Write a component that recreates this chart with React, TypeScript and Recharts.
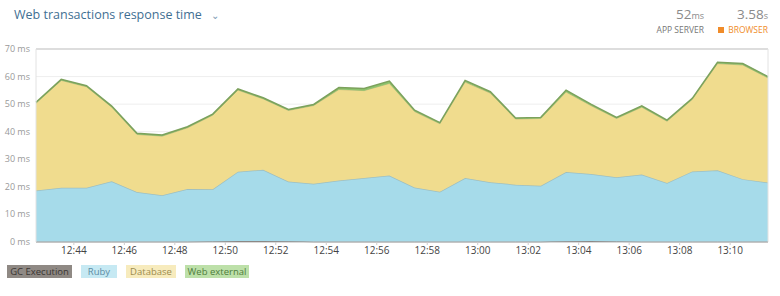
import React from 'react';
import { AreaChart, Area, XAxis, YAxis, CartesianGrid, ReferenceLine } from 'recharts';

const minutes = [42.5, 43.5, 44.5, 45.5, 46.5, 47.5, 48.5, 49.5, 50.5, 51.5, 52.5, 53.5, 54.5, 55.5, 56.5, 57.5, 58.5, 59.5, 60.5, 61.5, 62.5, 63.5, 64.5, 65.5, 66.5, 67.5, 68.5, 69.5, 70.5, 71.5];
const gcExecution = [0.1, 0.1, 0.1, 0.1, 0.1, 0.1, 0.1, 0.2, 0.4, 0.4, 0.3, 0.1, 0.1, 0.1, 0.1, 0.1, 0.1, 0.1, 0.1, 0.1, 0.1, 0.3, 0.4, 0.2, 0.1, 0.1, 0.1, 0.1, 0.1, 0.1];
const ruby = [18.6, 19.6, 19.6, 21.9, 18.0, 16.9, 19.1, 18.9, 25.1, 25.8, 21.6, 21.0, 22.2, 23.1, 24.0, 19.7, 18.1, 23.1, 21.6, 20.7, 20.3, 25.1, 24.3, 23.3, 24.4, 21.3, 25.5, 25.9, 22.7, 21.5];
const database = [31.6, 38.9, 36.6, 26.9, 20.9, 21.4, 22.2, 26.9, 29.6, 25.7, 25.8, 28.4, 33.0, 31.7, 33.4, 27.5, 24.7, 34.8, 32.3, 23.8, 24.4, 29.0, 24.7, 21.3, 24.4, 22.4, 26.1, 38.7, 41.4, 37.9];
const webExternal = [0.4, 0.4, 0.4, 0.4, 0.4, 0.4, 0.4, 0.4, 0.4, 0.4, 0.4, 0.4, 0.7, 0.8, 0.9, 0.5, 0.4, 0.6, 0.5, 0.4, 0.4, 0.7, 0.5, 0.4, 0.5, 0.4, 0.4, 0.5, 0.5, 0.5];
const xTicks = [44, 46, 48, 50, 52, 54, 56, 58, 60, 62, 64, 66, 68, 70];
const yTicks = [0, 10, 20, 30, 40, 50, 60, 70];

const data = minutes.map((t, i) => ({
  t,
  gc: gcExecution[i],
  ruby: ruby[i],
  db: database[i],
  web: webExternal[i],
}));

const fmtTime = (m: number) => {
  const h = 12 + Math.floor(m / 60);
  const mm = Math.round(m % 60);
  return `${h}:${mm < 10 ? '0' + mm : mm}`;
};

const font = '"Open Sans", "DejaVu Sans", sans-serif';

const legend = [
  { label: 'GC Execution', bg: '#8f8984', color: '#3a3633', left: 7, width: 65 },
  { label: 'Ruby', bg: '#c6e9f3', color: '#5d8ca3', left: 81, width: 36 },
  { label: 'Database', bg: '#f7ebbd', color: '#9c8c4e', left: 126, width: 50 },
  { label: 'Web external', bg: '#bde0a9', color: '#4f7d3c', left: 185, width: 64 },
];

const YTick = (props: any) => {
  const { x, y, payload } = props;
  return (
    <text x={x} y={y} dy={3} textAnchor="end" fontSize={9} fill="#999" fontFamily={font}>
      {`${payload.value} ms`}
    </text>
  );
};

export default function App() {
  return (
    <div style={{ position: 'absolute', left: 0, top: 0, width: 780, height: 296, background: '#fff', fontFamily: font }}>
      <div style={{ position: 'absolute', left: 14, top: 6, fontSize: 12.5, color: '#3f6f93', whiteSpace: 'nowrap' }}>
        Web transactions response time<span style={{ fontSize: 10, color: '#7d9bb5', marginLeft: 9 }}>&#8964;</span>
      </div>
      <div style={{ position: 'absolute', right: 76, top: 6, textAlign: 'right', color: '#8a8a8a', whiteSpace: 'nowrap' }}>
        <div style={{ fontSize: 13.5, lineHeight: '16px' }}>52<span style={{ fontSize: 9 }}>ms</span></div>
        <div style={{ fontSize: 8.5, lineHeight: '12px', color: '#777' }}>APP SERVER</div>
      </div>
      <div style={{ position: 'absolute', right: 12, top: 6, textAlign: 'right', color: '#8a8a8a', whiteSpace: 'nowrap' }}>
        <div style={{ fontSize: 13.5, lineHeight: '16px' }}>3.58<span style={{ fontSize: 9 }}>s</span></div>
        <div style={{ fontSize: 8.5, lineHeight: '12px', color: '#f08c2a' }}>
          <span style={{ display: 'inline-block', width: 6, height: 6, background: '#f08c2a', marginRight: 4 }} />BROWSER
        </div>
      </div>
      <div style={{ position: 'absolute', left: 0, top: 0 }}>
        <AreaChart width={780} height={260} data={data} margin={{ top: 49, right: 12, bottom: 0, left: 0 }}>
          <CartesianGrid vertical={false} stroke="#eeeeee" />
          <XAxis
            dataKey="t"
            type="number"
            domain={[42.5, 71.5]}
            ticks={xTicks}
            tickFormatter={fmtTime}
            tick={{ fontSize: 10, fill: '#444', fontFamily: font }}
            tickLine={{ stroke: '#ccc' }}
            tickSize={3}
            axisLine={{ stroke: '#bbb' }}
            height={18}
            interval={0}
          />
          <YAxis
            domain={[0, 70]}
            ticks={yTicks}
            tick={<YTick />}
            tickLine={false}
            tickSize={4}
            axisLine={{ stroke: '#e2e2e2' }}
            width={36}
            interval={0}
          />
          <Area type="linear" dataKey="gc" stackId="1" fill="#6b635d" stroke="#4b4541" strokeWidth={1} fillOpacity={1} isAnimationActive={false} />
          <Area type="linear" dataKey="ruby" stackId="1" fill="#a6dbea" stroke="#9dbfc2" strokeWidth={1.5} fillOpacity={1} isAnimationActive={false} />
          <Area type="linear" dataKey="db" stackId="1" fill="#f0dc8e" stroke="#c9bd7e" strokeWidth={1} fillOpacity={1} isAnimationActive={false} />
          <Area type="linear" dataKey="web" stackId="1" fill="#8cc46c" stroke="#7ca15c" strokeWidth={1.5} fillOpacity={1} isAnimationActive={false} />
          <ReferenceLine y={70} stroke="#dddddd" strokeWidth={2} />
          <ReferenceLine x={71.5} stroke="#e2e2e2" />
        </AreaChart>
      </div>
      {legend.map((l) => (
        <div
          key={l.label}
          style={{
            position: 'absolute',
            left: l.left,
            top: 265,
            width: l.width,
            height: 13,
            background: l.bg,
            color: l.color,
            fontSize: 9.5,
            lineHeight: '13px',
            textAlign: 'center',
            whiteSpace: 'nowrap',
          }}
        >
          {l.label}
        </div>
      ))}
    </div>
  );
}
